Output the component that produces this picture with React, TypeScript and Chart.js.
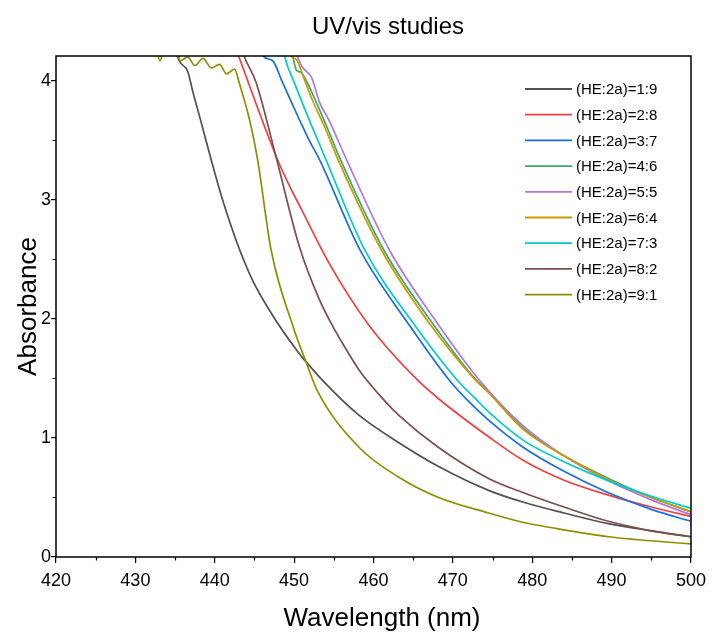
import React, { useEffect, useRef } from "react";
import { Chart, registerables } from "chart.js";

Chart.register(...registerables);

const TITLE = "UV/vis studies";
const X_TITLE = "Wavelength (nm)";
const Y_TITLE = "Absorbance";

const X_TICKS = [420, 430, 440, 450, 460, 470, 480, 490, 500];
const X_MINOR = [425, 435, 445, 455, 465, 475, 485, 495];
const Y_TICKS = [0, 1, 2, 3, 4];
const Y_MINOR = [0.5, 1.5, 2.5, 3.5];

const SERIES_LABELS = [
  "(HE:2a)=1:9",
  "(HE:2a)=2:8",
  "(HE:2a)=3:7",
  "(HE:2a)=4:6",
  "(HE:2a)=5:5",
  "(HE:2a)=6:4",
  "(HE:2a)=7:3",
  "(HE:2a)=8:2",
  "(HE:2a)=9:1",
];
const SERIES_COLORS = [
  "#515151",
  "#F14040",
  "#1A6FDF",
  "#37AD6B",
  "#B177DE",
  "#CC9900",
  "#00CBCC",
  "#7D4E4E",
  "#8E8E00",
];

// (HE:2a)=1:9
const WL_19 = [434.9, 435.3, 435.6, 436.6, 437.2, 438.3, 439.5, 440.9, 442.7, 444.8, 447.3, 450.3, 451.5, 454.8, 458.2, 463.2, 468.2, 474.5, 478.9, 484.0, 489.6, 495.0, 500.0];
const ABS_19 = [4.28, 4.21, 4.16, 4.08, 3.92, 3.65, 3.35, 3.02, 2.66, 2.32, 2.03, 1.74, 1.64, 1.4, 1.19, 0.96, 0.76, 0.56, 0.46, 0.37, 0.28, 0.22, 0.17];
// (HE:2a)=2:8
const WL_28 = [442.5, 443.0, 447.9, 449.4, 450.7, 454.4, 459.4, 465.5, 468.2, 474.5, 478.9, 484.0, 489.6, 495.0, 500.0];
const ABS_28 = [4.3, 4.21, 3.34, 3.12, 2.95, 2.47, 1.95, 1.49, 1.33, 1.01, 0.81, 0.645, 0.52, 0.42, 0.34];
// (HE:2a)=3:7
const WL_37 = [445.8, 446.1, 447.3, 448.4, 449.4, 450.7, 451.9, 453.2, 458.3, 464.7, 469.5, 471.8, 474.5, 478.9, 484.0, 489.6, 495.0, 500.0];
const ABS_37 = [4.28, 4.21, 4.17, 4.01, 3.86, 3.67, 3.5, 3.34, 2.58, 1.93, 1.49, 1.32, 1.15, 0.92, 0.72, 0.54, 0.4, 0.3];
// (HE:2a)=4:6
const WL_46 = [449.5, 449.8, 450.3, 450.9, 451.7, 452.8, 454.4, 455.7, 461.3, 467.7, 472.9, 474.5, 478.9, 484.0, 489.6, 495.0, 500.0];
const ABS_46 = [4.28, 4.21, 4.09, 4.07, 3.98, 3.82, 3.57, 3.36, 2.58, 1.94, 1.49, 1.39, 1.08, 0.85, 0.66, 0.5, 0.38];
// (HE:2a)=5:5
const WL_55 = [450.1, 450.4, 451.0, 452.2, 453.2, 454.4, 456.6, 462.0, 468.2, 473.3, 478.9, 484.0, 489.6, 495.0, 500.0];
const ABS_55 = [4.28, 4.21, 4.12, 4.03, 3.82, 3.67, 3.34, 2.58, 1.95, 1.49, 1.1, 0.85, 0.64, 0.48, 0.355];
// (HE:2a)=6:4
const WL_64 = [449.3, 449.6, 450.3, 451.3, 452.3, 454.0, 455.4, 461.0, 467.4, 472.8, 474.5, 478.9, 484.0, 489.6, 495.0, 500.0];
const ABS_64 = [4.28, 4.21, 4.18, 4.01, 3.84, 3.59, 3.36, 2.58, 1.93, 1.49, 1.38, 1.07, 0.85, 0.65, 0.5, 0.38];
// (HE:2a)=7:3
const WL_73 = [448.5, 448.8, 449.2, 450.0, 451.0, 452.3, 454.0, 458.9, 465.5, 470.5, 473.0, 474.5, 478.9, 484.0, 489.6, 495.0, 500.0];
const ABS_73 = [4.27, 4.21, 4.12, 3.99, 3.82, 3.61, 3.34, 2.58, 1.92, 1.49, 1.32, 1.22, 0.98, 0.8, 0.64, 0.51, 0.41];
// (HE:2a)=8:2
const WL_82 = [443.4, 443.7, 445.2, 447.5, 450.7, 453.2, 455.1, 456.6, 458.2, 461.3, 463.2, 468.2, 474.5, 478.9, 484.0, 489.6, 495.0, 500.0];
const ABS_82 = [4.28, 4.21, 3.99, 3.42, 2.6, 2.16, 1.91, 1.74, 1.57, 1.32, 1.19, 0.92, 0.66, 0.54, 0.42, 0.3, 0.22, 0.17];
// (HE:2a)=9:1
const WL_91 = [432.6, 433.1, 433.7, 435.3, 435.6, 436.6, 437.5, 438.5, 439.6, 440.6, 441.5, 442.5, 443.1, 444.4, 445.4, 447.1, 450.0, 451.5, 452.9, 458.2, 463.2, 468.2, 474.5, 478.9, 482.1, 489.6, 500.0];
const ABS_91 = [4.3, 4.17, 4.3, 4.25, 4.17, 4.2, 4.13, 4.19, 4.11, 4.14, 4.06, 4.1, 3.98, 3.67, 3.34, 2.58, 1.91, 1.64, 1.4, 0.92, 0.67, 0.5, 0.37, 0.29, 0.25, 0.17, 0.11];

const SERIES_WL = [WL_19, WL_28, WL_37, WL_46, WL_55, WL_64, WL_73, WL_82, WL_91];
const SERIES_ABS = [ABS_19, ABS_28, ABS_37, ABS_46, ABS_55, ABS_64, ABS_73, ABS_82, ABS_91];

const FONT = "'Liberation Sans', Arial, Helvetica, sans-serif";

const decorPlugin = {
  id: "decor",
  afterDatasetsDraw(chart: any) {
    const { ctx, chartArea, scales } = chart;
    const { left, right, top, bottom } = chartArea;
    ctx.save();
    ctx.strokeStyle = "#000";
    ctx.lineWidth = 1.5;
    ctx.strokeRect(left, top, right - left, bottom - top);
    ctx.lineWidth = 1.2;
    ctx.beginPath();
    for (const v of X_MINOR) {
      const px = Math.round(scales.x.getPixelForValue(v)) + 0.5;
      ctx.moveTo(px, bottom);
      ctx.lineTo(px, bottom + 3.5);
    }
    for (const v of Y_MINOR) {
      const py = Math.round(scales.y.getPixelForValue(v)) + 0.5;
      ctx.moveTo(left, py);
      ctx.lineTo(left - 3.5, py);
    }
    ctx.stroke();

    ctx.fillStyle = "#000";
    ctx.textAlign = "center";
    ctx.textBaseline = "middle";
    ctx.font = `24px ${FONT}`;
    ctx.fillText(TITLE, 388, 27);
    ctx.font = `26px ${FONT}`;
    ctx.fillText(X_TITLE, 382, 619);

    const lx0 = 525;
    const lx1 = 572;
    const y0 = 89;
    const dy = 25.7;
    ctx.font = `15px ${FONT}`;
    ctx.textAlign = "left";
    SERIES_LABELS.forEach((lab, i) => {
      const y = y0 + i * dy;
      ctx.strokeStyle = SERIES_COLORS[i];
      ctx.lineWidth = 1.8;
      ctx.beginPath();
      ctx.moveTo(lx0, y);
      ctx.lineTo(lx1, y);
      ctx.stroke();
      ctx.fillStyle = "#000";
      ctx.fillText(lab, lx1 + 4, y + 1);
    });
    ctx.restore();
  },
};

export default function App() {
  const ref = useRef<HTMLCanvasElement>(null);
  useEffect(() => {
    document.body.style.margin = "0";
    const datasets = SERIES_LABELS.map((label, i) => ({
      label,
      data: SERIES_WL[i].map((w, j) => ({ x: w, y: SERIES_ABS[i][j] })),
      borderColor: SERIES_COLORS[i],
      backgroundColor: SERIES_COLORS[i],
      borderWidth: 1.7,
      pointRadius: 0,
      fill: false,
      cubicInterpolationMode: "monotone" as const,
      clip: 0,
      order: -i,
    }));
    const chart = new Chart(ref.current as HTMLCanvasElement, {
      type: "line",
      data: { datasets },
      options: {
        animation: false,
        responsive: false,
        devicePixelRatio: 1,
        layout: { padding: { top: 56, right: 20, left: 0, bottom: 0 } },
        plugins: {
          legend: { display: false },
          title: { display: false },
          tooltip: { enabled: false },
        },
        scales: {
          x: {
            type: "linear",
            min: 420,
            max: 500,
            afterBuildTicks: (s: any) => {
              s.ticks = X_TICKS.map((v) => ({ value: v }));
            },
            afterFit: (s: any) => {
              s.height = 78;
            },
            grid: {
              drawOnChartArea: false,
              drawTicks: true,
              tickLength: 6,
              color: "#000",
              lineWidth: 1.2,
            },
            border: { display: false },
            ticks: {
              color: "#000",
              font: { family: FONT, size: 18 },
              padding: 7,
              maxRotation: 0,
            },
            title: { display: false },
          },
          y: {
            type: "linear",
            min: 0,
            max: 4.21,
            afterBuildTicks: (s: any) => {
              s.ticks = Y_TICKS.map((v) => ({ value: v }));
            },
            afterFit: (s: any) => {
              s.width = 56;
            },
            grid: {
              drawOnChartArea: false,
              drawTicks: true,
              tickLength: 5,
              color: "#000",
              lineWidth: 1.2,
            },
            border: { display: false },
            ticks: {
              color: "#000",
              font: { family: FONT, size: 18 },
              padding: 0,
            },
            title: {
              display: true,
              text: Y_TITLE,
              color: "#000",
              font: { family: FONT, size: 26 },
              padding: { top: 13, bottom: 0 },
            },
          },
        },
      },
      plugins: [decorPlugin],
    });
    return () => chart.destroy();
  }, []);
  return (
    <div style={{ width: 713, height: 635 }}>
      <canvas ref={ref} width={713} height={635} />
    </div>
  );
}
